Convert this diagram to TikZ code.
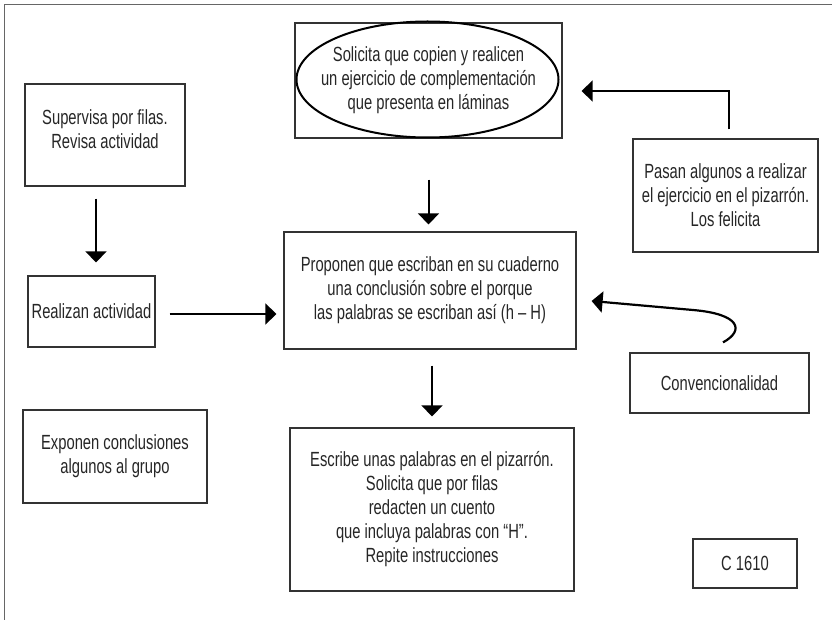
\documentclass[tikz,border=0pt]{standalone}
\usepackage{fontspec}
\setmainfont[FakeStretch=0.72]{Liberation Sans}
\usetikzlibrary{arrows.meta}

\begin{document}
\begin{tikzpicture}[x=1pt, y=-1pt,
    box/.style={draw=black!80, line width=1.2pt, rectangle, inner sep=0pt, align=center, text=black!85, font=\fontsize{20.5}{24}\selectfont},
    flow/.style={-{Triangle[width=21pt,length=11pt]}, line width=2pt}]
     \useasboundingbox (0,0) rectangle (832,620);

     % Outer frame
     \draw[black!60, line width=1.5pt] (4.5,620) -- (4.5,4.5) -- (832,4.5);

     % Top box (with ellipse)
     \node[box, minimum width=267, minimum height=115] (top) at (428.5,80.5) {
         Solicita que copien y realicen\\
         un ejercicio de complementación\\
         que presenta en láminas
     };
     \draw[line width=2pt] (427.5,79.5) ellipse [x radius=131, y radius=58];

     % Left column
     \node[box, minimum width=160, minimum height=102] (super) at (105,135) {
         Supervisa por filas.\\
         Revisa actividad\\[-12pt]
     };
     \node[box, minimum width=127, minimum height=71] (realizan) at (91.5,311.5) {Realizan actividad};
     \node[box, minimum width=184, minimum height=93] (exponen) at (115,456.5) {
         Exponen conclusiones\\
         algunos al grupo
     };

     % Central box
     \node[box, minimum width=292, minimum height=117] (propon) at (430,290.5) {
         Proponen que escriban en su cuaderno\\
         una conclusión sobre el porque\\
         las palabras se escriban así (h – H)
     };

     % Bottom box
     \node[box, minimum width=284, minimum height=163] (escribe) at (432,509.5) {
         Escribe unas palabras en el pizarrón.\\
         Solicita que por filas\\
         redacten un cuento\\
         que incluya palabras con “H”.\\
         Repite instrucciones
     };

     % Right column
     \node[box, minimum width=185, minimum height=113] (pasan) at (725.5,195.5) {
         Pasan algunos a realizar\\
         el ejercicio en el pizarrón.\\
         Los felicita
     };
     \node[box, minimum width=179, minimum height=60] (conv) at (719.5,383) {Convencionalidad};
     \node[box, minimum width=104, minimum height=49] (code) at (745,563.5) {C 1610};

     % Straight arrows
     \draw[flow, shorten <=12pt, shorten >=13pt] ([xshift=-9pt]super.south) -- ([xshift=4.5pt]realizan.north);
     \draw[flow, shorten <=14pt, shorten >=7pt] ([yshift=-2.5pt]realizan.east) -- ([yshift=-23.5pt]propon.west);
     \draw[flow, shorten <=41pt, shorten >=7pt] (top.south) -- (top.south |- propon.north);
     \draw[flow, shorten <=16pt, shorten >=11pt] (propon.south -| escribe.north) -- (escribe.north);

     % Back arrow (up, then left)
     \draw[flow, shorten <=9pt, shorten >=19pt] ([xshift=3.5pt]pasan.north) |- ([yshift=-10.5pt]top.east);

     % Curved arrow
     \coordinate (bend) at (693,310);
     \draw[flow, line width=2.2pt] ([xshift=3.5pt, yshift=10pt]conv.north) .. controls +(22,-12) and +(47,4) .. (bend)
        -- ([xshift=15pt, yshift=-10.5pt]propon.east);

\end{tikzpicture}
\end{document}
